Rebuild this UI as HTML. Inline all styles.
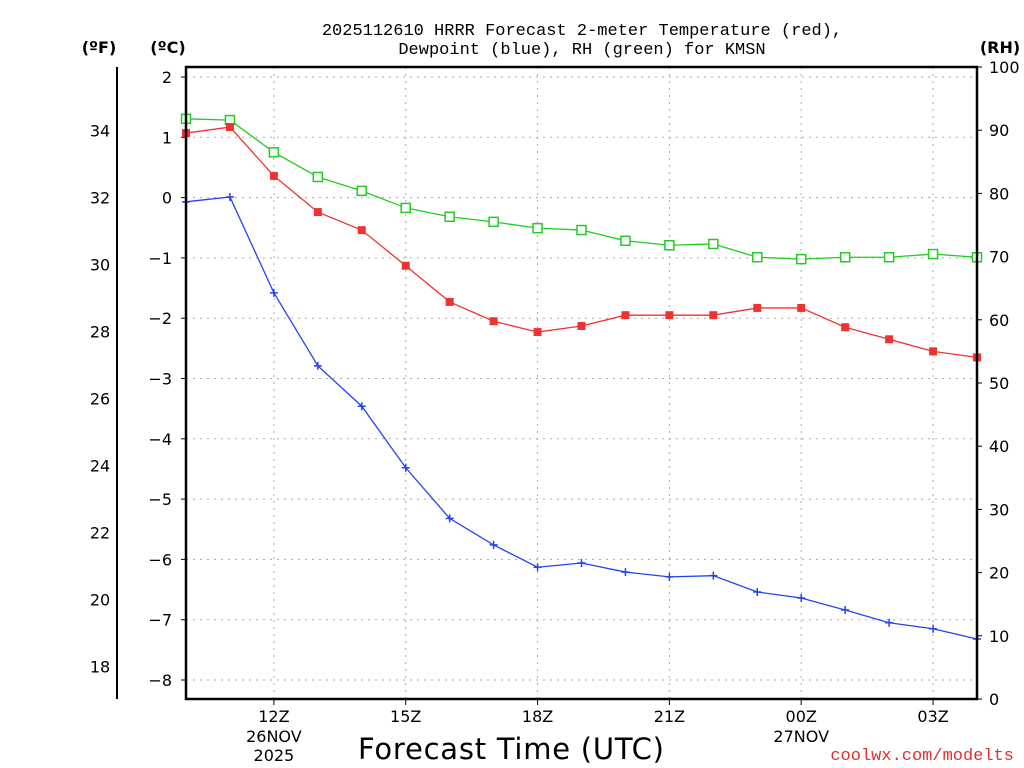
<!DOCTYPE html>
<html><head><meta charset="utf-8"><style>
body{margin:0;background:#fff;}
svg{display:block;font-family:"DejaVu Sans","Liberation Sans",sans-serif;}
</style></head><body>
<svg id="chart" width="1024" height="768">
<g font-size="17" text-anchor="middle" fill="#000" font-family="Liberation Mono, monospace">
<text x="582" y="35">2025112610 HRRR Forecast 2-meter Temperature (red),</text>
<text x="582" y="54">Dewpoint (blue), RH (green) for KMSN</text>
</g>
<text x="99" y="53" font-size="16" font-weight="bold" text-anchor="middle">(ºF)</text>
<text x="168" y="53" font-size="16" font-weight="bold" text-anchor="middle">(ºC)</text>
<text x="1000" y="53" font-size="16" font-weight="bold" text-anchor="middle">(RH)</text>
<line x1="117" y1="67" x2="117" y2="699" stroke="#000" stroke-width="2"/>
<g id="grid"></g>
<g id="axes"></g>
<g id="series"></g>
<rect x="186" y="67" width="791" height="632" fill="none" stroke="#000" stroke-width="2.5"/>
<text x="511" y="759" font-size="29" text-anchor="middle" textLength="306">Forecast Time (UTC)</text>
<text x="1014" y="760" font-size="17" fill="#e03030" text-anchor="end" font-family="Liberation Mono, monospace">coolwx.com/modelts</text>
</svg>
<script>
const hours=[10,11,12,13,14,15,16,17,18,19,20,21,22,23,24,25,26,27,28];
const tempC=[1.07,1.17,0.36,-0.24,-0.54,-1.13,-1.73,-2.05,-2.23,-2.13,-1.95,-1.95,-1.95,-1.83,-1.83,-2.15,-2.35,-2.55,-2.65];
const dewC=[-0.07,0.01,-1.58,-2.79,-3.46,-4.48,-5.32,-5.76,-6.13,-6.06,-6.21,-6.29,-6.27,-6.54,-6.64,-6.84,-7.05,-7.15,-7.32];
const rh=[91.8,91.6,86.5,82.6,80.4,77.7,76.3,75.5,74.5,74.2,72.5,71.8,72.0,69.9,69.6,69.9,69.9,70.4,69.9];
const cTicks=[2,1,0,-1,-2,-3,-4,-5,-6,-7,-8];
const fTicks=[34,32,30,28,26,24,22,20,18];
const rhTicks=[0,10,20,30,40,50,60,70,80,90,100];
const xTickHours=[12,15,18,21,24,27];
const xTickLabels=["12Z","15Z","18Z","21Z","00Z","03Z"];
const xSubLabels={12:["26NOV","2025"],24:["27NOV"]};

const NS="http://www.w3.org/2000/svg";
const X=h=>186+(h-10)*(791/18);
const YC=c=>197.6-c*60.3;
const YF=f=>YC((f-32)*5/9);
const YR=r=>699-r*6.32;
function el(tag,attrs,parent,text){const e=document.createElementNS(NS,tag);for(const k in attrs)e.setAttribute(k,attrs[k]);if(text!==undefined)e.textContent=text;parent.appendChild(e);return e;}
const grid=document.getElementById('grid'),axes=document.getElementById('axes'),ser=document.getElementById('series');
cTicks.forEach(c=>{const y=YC(c);
 const g=el('line',{x1:186,x2:977,y1:y,y2:y,stroke:'#aaa','stroke-dasharray':'2,5'},grid);
 
 
 const t=el('line',{x1:181,x2:186,y1:y,y2:y,stroke:'#000'},axes);
 
 
 const l=el('text',{x:172,y:y+6,'font-size':16,'text-anchor':'end'},axes,String(c).replace('-','\u2212'));
 
 
});
fTicks.forEach(f=>{const l=el('text',{x:100,y:YF(f)+6,'font-size':16,'text-anchor':'middle'},axes,String(f));
 
 });
rhTicks.forEach(r=>{const y=YR(r);
 const t=el('line',{x1:977,x2:982,y1:y,y2:y,stroke:'#000'},axes);
 
 
 const l=el('text',{x:989,y:y+6,'font-size':16},axes,String(r));
 
 });
xTickHours.forEach((h,i)=>{const x=X(h);
 const g=el('line',{x1:x,x2:x,y1:67,y2:699,stroke:'#aaa','stroke-dasharray':'2,5'},grid);
 
 
 const t=el('line',{x1:x,x2:x,y1:699,y2:705,stroke:'#000'},axes);
 
 
 const l=el('text',{x:x,y:722,'font-size':16,'text-anchor':'middle'},axes,xTickLabels[i]);
 
 
 (xSubLabels[h]||[]).forEach((s,j)=>{const sl=el('text',{x:x,y:742+j*19,'font-size':16,'text-anchor':'middle'},axes,s);
  
  });
});
function line(vals,yf,color,name){const pts=vals.map((v,i)=>X(hours[i])+','+yf(v)).join(' ');
 const p=el('polyline',{points:pts,fill:'none',stroke:color,'stroke-width':1.3},ser);
 
 }
line(rh,YR,'#22cc22','rh-line');
line(tempC,YC,'#ee3333','temperature-line');
line(dewC,YC,'#2244ee','dewpoint-line');
rh.forEach((v,i)=>{const m=el('rect',{x:X(hours[i])-4.5,y:YR(v)-4.5,width:9,height:9,fill:'#fff',stroke:'#22cc22','stroke-width':1.5},ser);
 
 });
tempC.forEach((v,i)=>{const m=el('rect',{x:X(hours[i])-4,y:YC(v)-4,width:8,height:8,fill:'#ee3333'},ser);
 
 });
dewC.forEach((v,i)=>{const x=X(hours[i]),y=YC(v);
 const m=el('path',{d:`M${x-4},${y}H${x+4}M${x},${y-4}V${y+4}`,stroke:'#2244ee','stroke-width':1.5},ser);
 
 });
</script>
</body></html>
